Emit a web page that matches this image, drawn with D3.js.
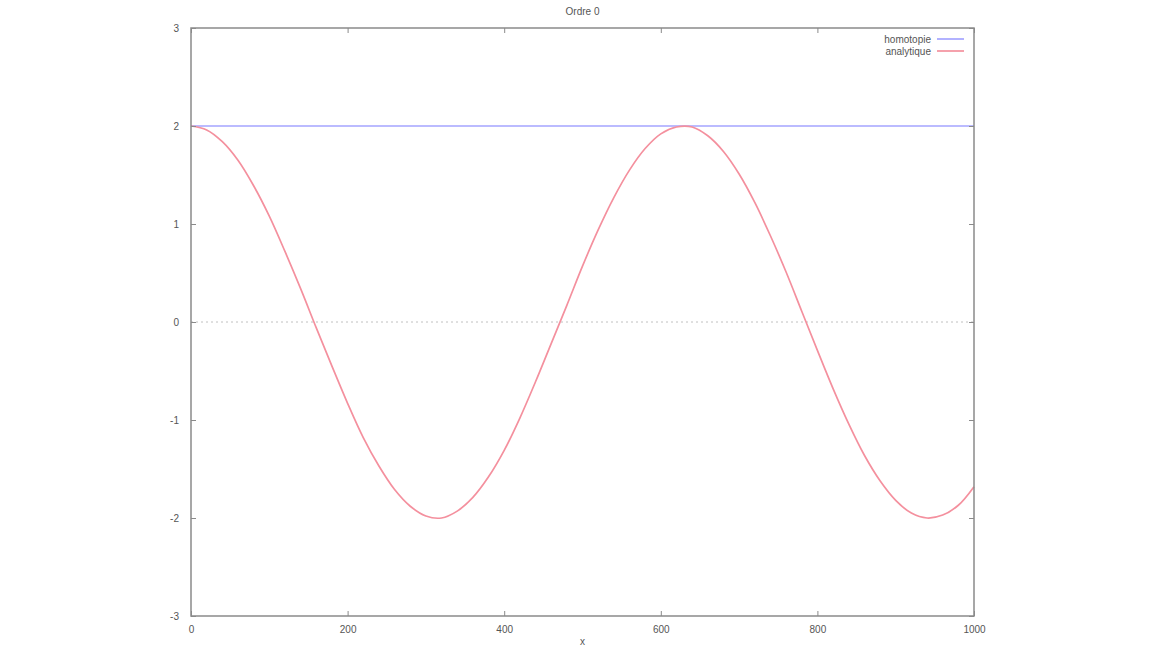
<!DOCTYPE html>
<html>
<head>
<meta charset="utf-8">
<script src="https://cdn.jsdelivr.net/npm/d3@7"></script>
<style>
  html, body { margin: 0; padding: 0; background: #fff; }
  svg { display: block; }
  text { font-family: "Liberation Sans", Arial, sans-serif; }
</style>
</head>
<body>
<svg id="chart" width="1152" height="648"></svg>
<script>
// ---- data ----
const title = "Ordre 0";
const xLabel = "x";
const xTicks = [0, 200, 400, 600, 800, 1000];
const yTicks = [-3, -2, -1, 0, 1, 2, 3];
const seriesNames = ["homotopie", "analytique"];

// homotopie (order 0): constant
const homotopieX = [0, 1000];
const homotopieY = [2, 2];

// analytique: sampled every 20 units of x
const analytiqueX = [0,20,40,60,80,100,120,140,160,180,200,220,240,260,280,300,320,340,360,380,400,
  420,440,460,480,500,520,540,560,580,600,620,640,660,680,700,720,740,760,780,800,
  820,840,860,880,900,920,940,960,980,1000];
const analytiqueY = [2.00,1.96,1.84,1.65,1.39,1.08,0.72,0.34,-0.06,-0.45,-0.83,
  -1.18,-1.47,-1.71,-1.88,-1.98,-2.00,-1.93,-1.79,-1.58,-1.31,
  -0.98,-0.61,-0.22,0.17,0.57,0.94,1.27,1.55,1.77,1.92,
  1.99,1.99,1.90,1.74,1.51,1.22,0.88,0.51,0.11,-0.29,
  -0.68,-1.04,-1.36,-1.62,-1.82,-1.95,-2.00,-1.97,-1.87,-1.68];

// ---- layout ----
const svg = d3.select("#chart");
const pLeft = 191, pRight = 974, pTop = 28, pBottom = 616;
const x = d3.scaleLinear().domain([0, 1000]).range([pLeft, pRight]);
const y = d3.scaleLinear().domain([-3, 3]).range([pBottom, pTop]);

const axisColor = "#8a8a8a";
const textColor = "#555";
const blue = "#a4a4ff";
const red = "#f4909e";
const fmt = d => String(d);

// zero line
svg.append("line")
  .attr("x1", x(0)).attr("x2", x(1000))
  .attr("y1", y(0)).attr("y2", y(0))
  .attr("stroke", "#c0c0c0").attr("stroke-width", 1)
  .attr("stroke-dasharray", "2,3");

// series
const lineGen = d3.line().x(d => x(d[0])).y(d => y(d[1]));
svg.append("path")
  .datum(homotopieX.map((v, i) => [v, homotopieY[i]]))
  .attr("d", lineGen)
  .attr("fill", "none").attr("stroke", blue).attr("stroke-width", 1.7);

svg.append("path")
  .datum(analytiqueX.map((v, i) => [v, analytiqueY[i]]))
  .attr("d", lineGen.curve(d3.curveCatmullRom))
  .attr("fill", "none").attr("stroke", red).attr("stroke-width", 1.7);

// border
svg.append("rect")
  .attr("x", pLeft).attr("y", pTop)
  .attr("width", pRight - pLeft).attr("height", pBottom - pTop)
  .attr("fill", "none").attr("stroke", axisColor).attr("stroke-width", 1.5);

// axes (inward ticks, mirrored)
function styleAxis(g) {
  g.select(".domain").remove();
  g.selectAll(".tick line").attr("stroke", axisColor).attr("stroke-width", 1);
  g.selectAll(".tick text").attr("fill", textColor)
    .style("font-size", "10px");
}
const xb = svg.append("g").attr("transform", `translate(0,${pBottom})`)
  .call(d3.axisBottom(x).tickValues(xTicks).tickSizeInner(-5).tickSizeOuter(0).tickPadding(10).tickFormat(fmt));
styleAxis(xb);
const xt = svg.append("g").attr("transform", `translate(0,${pTop})`)
  .call(d3.axisTop(x).tickValues(xTicks).tickSizeInner(-5).tickSizeOuter(0).tickFormat(""));
styleAxis(xt);
const yl = svg.append("g").attr("transform", `translate(${pLeft},0)`)
  .call(d3.axisLeft(y).tickValues(yTicks).tickSizeInner(-5).tickSizeOuter(0).tickPadding(12).tickFormat(fmt));
styleAxis(yl);
const yr = svg.append("g").attr("transform", `translate(${pRight},0)`)
  .call(d3.axisRight(y).tickValues(yTicks).tickSizeInner(-5).tickSizeOuter(0).tickFormat(""));
styleAxis(yr);

// title & x label
svg.append("text").attr("x", (pLeft + pRight) / 2).attr("y", 15)
  .attr("text-anchor", "middle").attr("fill", textColor).style("font-size", "10px").text(title);
svg.append("text").attr("x", (pLeft + pRight) / 2).attr("y", 645)
  .attr("text-anchor", "middle").attr("fill", textColor).style("font-size", "10px").text(xLabel);

// legend
const legColors = [blue, red];
seriesNames.forEach((name, i) => {
  const ly = 39 + i * 12;
  svg.append("text").attr("x", 931).attr("y", ly + 3.5)
    .attr("text-anchor", "end").attr("fill", textColor).style("font-size", "10px").text(name);
  svg.append("line").attr("x1", 937).attr("x2", 964).attr("y1", ly).attr("y2", ly)
    .attr("stroke", legColors[i]).attr("stroke-width", 1.7);
});
</script>
</body>
</html>
